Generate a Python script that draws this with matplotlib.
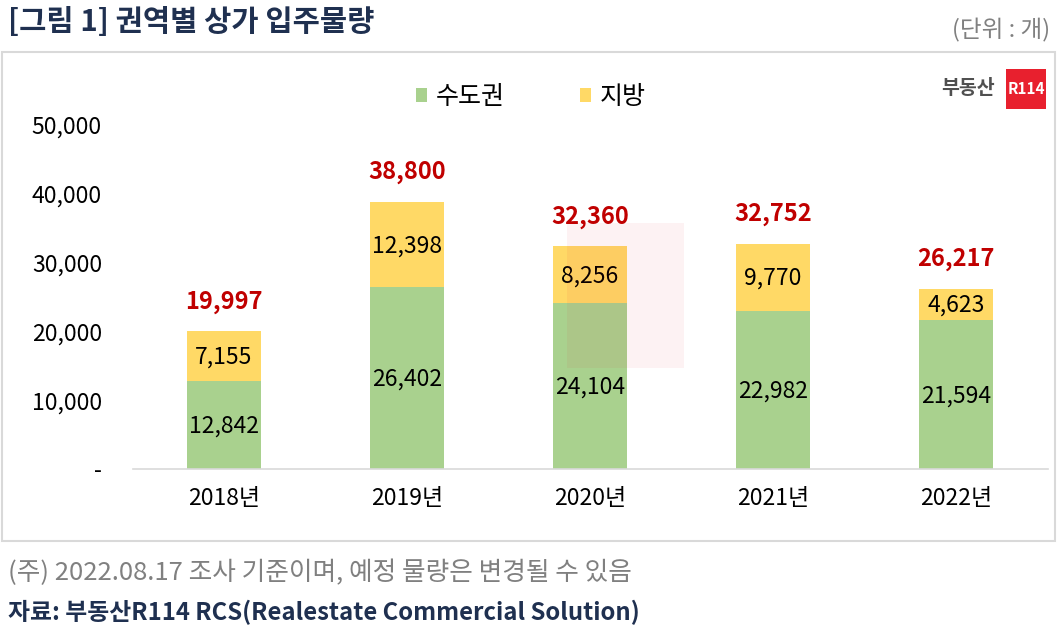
import matplotlib.pyplot as plt
from matplotlib.patches import Rectangle

plt.rcParams['font.family'] = ['Noto Sans CJK KR', 'DejaVu Sans']

years = ['2018년', '2019년', '2020년', '2021년', '2022년']
capital = [12842, 26402, 24104, 22982, 21594]   # 수도권
local = [7155, 12398, 8256, 9770, 4623]         # 지방
totals = [19997, 38800, 32360, 32752, 26217]
yticks = [0, 10000, 20000, 30000, 40000, 50000]
ytick_labels = ['-', '10,000', '20,000', '30,000', '40,000', '50,000']

green = '#A9D18E'
yellow = '#FFD966'
navy = '#1F3050'

W, H = 1064, 625
fig = plt.figure(figsize=(W / 100, H / 100), dpi=100)

# chart box
fig.patches.append(Rectangle((2 / W, (H - 541) / H), 1053 / W, 489 / H,
                             transform=fig.transFigure, fill=False,
                             edgecolor='#D9D9D9', linewidth=1.5))

# faint watermark block
fig.patches.append(Rectangle((567 / W, (H - 368) / H), 117 / W, 145 / H,
                             transform=fig.transFigure, facecolor='#E8001C',
                             alpha=0.05, edgecolor='none', zorder=0))

ax = fig.add_axes([132.5 / W, (H - 469) / H, 915 / W, 344 / H])
x = range(len(years))
ax.bar(x, capital, width=0.40, color=green, label='수도권', zorder=2)
ax.bar(x, local, width=0.40, bottom=capital, color=yellow, label='지방', zorder=2)

for i in x:
    ax.text(i, capital[i] / 2 - 150, f'{capital[i]:,}', ha='center', va='center',
            fontsize=16.5, color='black', zorder=3)
    ax.text(i, capital[i] + local[i] / 2 - 150, f'{local[i]:,}', ha='center',
            va='center', fontsize=16.5, color='black', zorder=3)
    ax.text(i, totals[i] + 4300, f'{totals[i]:,}', ha='center', va='center',
            fontsize=17, fontweight='bold', color='#C00000', zorder=3)

ax.set_xlim(-0.5, 4.5)
ax.set_ylim(0, 50000)
ax.set_xticks(list(x))
ax.set_xticklabels(years, fontsize=16.5)
ax.set_yticks(yticks)
ax.set_yticklabels(ytick_labels, fontsize=16.5)
ax.tick_params(length=0)
ax.tick_params(axis='x', pad=13)
ax.tick_params(axis='y', pad=22)
for s in ['top', 'right', 'left']:
    ax.spines[s].set_visible(False)
ax.spines['bottom'].set_color('#D9D9D9')
ax.spines['bottom'].set_linewidth(1.2)
ax.patch.set_alpha(0)

ax.legend(loc='center', bbox_to_anchor=(531 / W, (H - 97) / H),
          bbox_transform=fig.transFigure, ncol=2, frameon=False, fontsize=18,
          handlelength=0.45, handleheight=0.45, handletextpad=0.35,
          columnspacing=3.0)

# title and notes
fig.text(8 / W, (H - 22) / H, '[그림 1] 권역별 상가 입주물량', fontsize=21.3,
         fontweight='bold', color=navy, ha='left', va='center')
fig.text(1050 / W, (H - 30) / H, '(단위 : 개)', fontsize=17, color='#808080',
         ha='right', va='center')
fig.text(8 / W, (H - 573) / H, '(주) 2022.08.17 조사 기준이며, 예정 물량은 변경될 수 있음',
         fontsize=18.5, color='#808080', ha='left', va='center')
fig.text(8 / W, (H - 612) / H, '자료: 부동산R114 RCS(Realestate Commercial Solution)',
         fontsize=17.2, fontweight='bold', color=navy, ha='left', va='center')

# logo
fig.text(995 / W, (H - 89) / H, '부동산', fontsize=14, fontweight='bold',
         color='#505050', ha='right', va='center')
fig.patches.append(Rectangle((1006 / W, (H - 109) / H), 40 / W, 40 / H,
                             transform=fig.transFigure, facecolor='#E8202E',
                             edgecolor='none'))
fig.text(1026 / W, (H - 89) / H, 'R114', fontsize=11, fontweight='bold',
         color='white', ha='center', va='center')

fig.savefig('out.png', dpi=100)
